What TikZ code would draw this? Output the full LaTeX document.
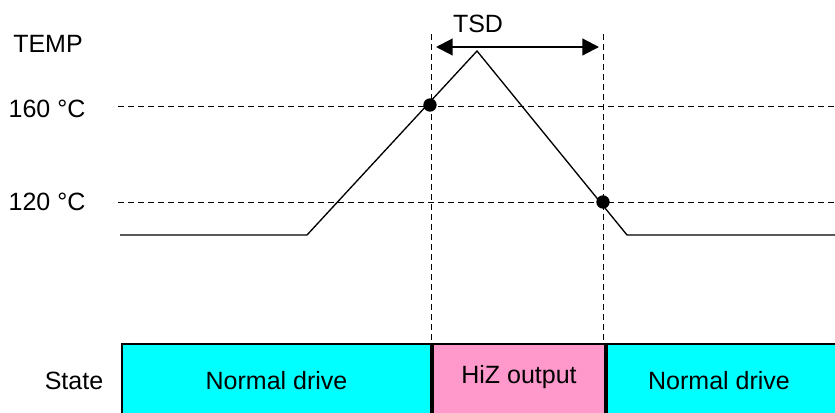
\documentclass[tikz,border=0pt]{standalone}
\usepackage{fontspec}
\setmainfont{Liberation Sans}
\usetikzlibrary{arrows.meta}
\definecolor{boxcyan}{RGB}{0,255,255}
\definecolor{boxpink}{RGB}{255,153,204}
\tikzset{
  lbl/.style={inner sep=0pt, font=\fontsize{15}{18}\selectfont},
  guide/.style={line width=0.6pt, dash pattern=on 3.6pt off 2.4pt},
  curve/.style={line width=0.8pt},
  dot/.style={circle, fill=black, inner sep=0pt, minimum size=8pt},
  statebox/.style={draw=black, line width=1.3pt, minimum height=44.4pt, inner sep=0pt, font=\fontsize{15}{18}\selectfont},
  span/.style={line width=1.3pt, {Triangle[length=10pt,width=10pt]}-{Triangle[length=10pt,width=10pt]}}
}
\begin{document}
\begin{tikzpicture}[x=0.6pt,y=-0.6pt]
\useasboundingbox (0,0) rectangle (835,412);
% labels
\node[lbl] (temp) at (48,44) {TEMP};
\node[lbl] (t160) at (47,109) {160 °C};
\node[lbl] (t120) at (47,202) {120 °C};
\node[lbl] (state) at (74,381) {State};
\node[lbl] (tsd) at (478,24) {TSD};
% threshold lines
\coordinate (h1a) at (118,106); \coordinate (h1b) at (835,106);
\coordinate (h2a) at (118,202); \coordinate (h2b) at (835,202);
\draw[guide] (h1a) -- (h1b);
\draw[guide] (h2a) -- (h2b);
% vertical guides
\coordinate (v1t) at (431,34); \coordinate (v1b) at (431,344);
\coordinate (v2t) at (603,34); \coordinate (v2b) at (603,344);
\draw[guide] (v1t) -- (v1b);
\draw[guide] (v2t) -- (v2b);
% temperature curve
\coordinate (c0) at (120,235);
\coordinate (c1) at (307,235);
\coordinate (peak) at (477,51);
\coordinate (c3) at (627,235);
\coordinate (c4) at (835,235);
\draw[curve] (c0) -- (c1) -- (peak) -- (c3) -- (c4);
\node[dot] (d1) at (430,105) {};
\node[dot] (d2) at (603,202) {};
% TSD arrow
\coordinate (a1) at (436,47); \coordinate (a2) at (599,47);
\draw[span] (a1) -- (a2);
% state boxes
\begin{scope}
\clip (0,0) rectangle (835,412);
\node[statebox, fill=boxcyan, minimum width=185.4pt] (nd1) at (276.5,381) {Normal drive};
\node[statebox, fill=boxpink, minimum width=103.2pt, anchor=north west] (hiz) at (nd1.north east) {};
\node[lbl] (hiztxt) at (519,377) {HiZ output};
\node[statebox, fill=boxcyan, minimum width=144pt, anchor=north west] (nd2) at (hiz.north east) {};
\node[lbl] (nd2txt) at (719,381) {Normal drive};
\end{scope}
\end{tikzpicture}
\end{document}
